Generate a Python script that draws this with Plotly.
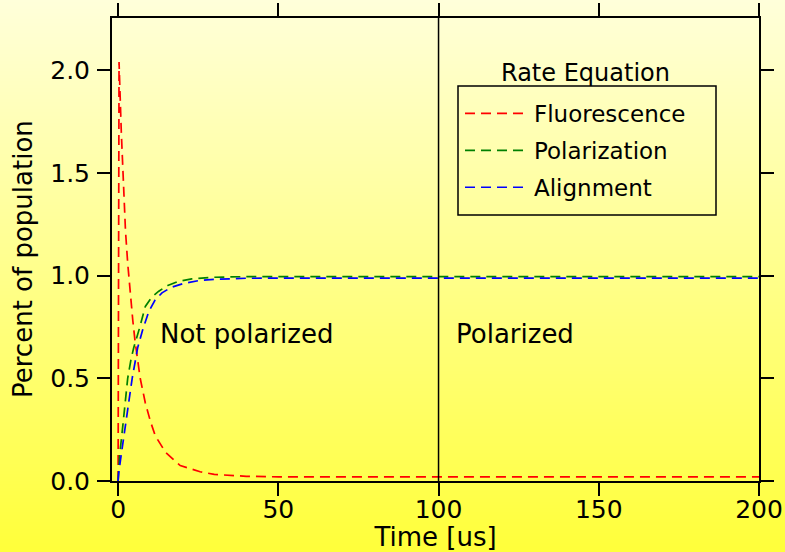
import base64, struct, zlib
import plotly.graph_objects as go

# ---------------- data ----------------
t_fluor = [0, 0.3, 1.0, 1.6, 2.3, 3.0, 3.8, 4.6, 5.3, 6.0, 6.9, 8.5, 10.1, 11.6,
           14.8, 19.4, 25.6, 30, 40, 50, 100, 150, 200]
fluorescence = [0, 2.04, 1.70, 1.45, 1.22, 1.06, 0.90, 0.78, 0.68, 0.59, 0.50, 0.38,
                0.29, 0.22, 0.14, 0.075, 0.045, 0.032, 0.023, 0.02, 0.02, 0.02, 0.02]

t_polar = [0, 0.5, 1.15, 1.77, 2.3, 3.0, 4.0, 4.9, 6.7, 8.5, 10.5, 12.7, 15.5,
           18.9, 23, 30, 40, 60, 100, 150, 200]
polarization = [0, 0.13, 0.22, 0.31, 0.40, 0.50, 0.59, 0.65, 0.745, 0.85, 0.895,
                0.924, 0.952, 0.972, 0.984, 0.992, 0.995, 0.995, 0.995, 0.995, 0.995]

t_align = [0, 0.2, 1.0, 1.8, 2.7, 3.5, 4.4, 6.1, 7.7, 9.6, 11.5, 13.7, 16.5,
           20.5, 25, 30, 40, 60, 100, 150, 200]
alignment = [0, 0.04, 0.13, 0.22, 0.31, 0.41, 0.50, 0.648, 0.737, 0.826, 0.88,
             0.916, 0.942, 0.962, 0.975, 0.982, 0.987, 0.988, 0.988, 0.988, 0.988]

x_ticks = [0, 50, 100, 150, 200]
y_ticks = [0.0, 0.5, 1.0, 1.5, 2.0]
y_ticktext = ["0.0", "0.5", "1.0", "1.5", "2.0"]
divider_x = 100
region_labels = ["Not polarized", "Polarized"]
region_label_x = [40.2, 123.9]
region_label_y = [0.718, 0.718]

# ---------------- background gradient image ----------------
W, H = 785, 552
ML, MR, MT, MB = 112, 26, 18, 71
PW, PH = W - ML - MR, H - MT - MB

def px_x(p):
    return (p - ML) / PW

def px_y(p):
    return 1 - (p - MT) / PH

def gradient_png(h, top=(255, 255, 218), bot=(255, 255, 58), w=4):
    rows = b""
    for i in range(h):
        f = i / (h - 1)
        c = bytes(int(round(top[k] + (bot[k] - top[k]) * f)) for k in range(3))
        rows += b"\x00" + c * w
    def chunk(tag, data):
        return struct.pack(">I", len(data)) + tag + data + struct.pack(">I", zlib.crc32(tag + data) & 0xffffffff)
    png = b"\x89PNG\r\n\x1a\n"
    png += chunk(b"IHDR", struct.pack(">IIBBBBB", w, h, 8, 2, 0, 0, 0))
    png += chunk(b"IDAT", zlib.compress(rows))
    png += chunk(b"IEND", b"")
    return "data:image/png;base64," + base64.b64encode(png).decode()

FONT = "DejaVu Sans"
dash = "10px,6px"
LW = 1.7

fig = go.Figure()
fig.add_trace(go.Scatter(x=t_fluor, y=fluorescence, mode="lines", name="Fluorescence",
                         legendgroup="a", line=dict(color="#ff0000", width=LW, dash=dash)))
fig.add_trace(go.Scatter(x=t_polar, y=polarization, mode="lines", name="Polarization",
                         legendgroup="b", line=dict(color="#008000", width=LW, dash=dash)))
fig.add_trace(go.Scatter(x=t_align, y=alignment, mode="lines", name="Alignment",
                         legendgroup="c", line=dict(color="#0000ff", width=LW, dash=dash)))

fig.add_shape(type="line", xref="x", yref="paper", x0=divider_x, x1=divider_x, y0=0, y1=1,
              line=dict(color="black", width=1.5))

# legend frame
fig.add_shape(type="rect", xref="paper", yref="paper",
              x0=px_x(458), x1=px_x(716), y0=px_y(215), y1=px_y(86),
              line=dict(color="black", width=1.5), fillcolor="rgba(0,0,0,0)")

for txt, xx, yy in zip(region_labels, region_label_x, region_label_y):
    fig.add_annotation(x=xx, y=yy, xref="x", yref="y", text=txt, showarrow=False,
                       xanchor="center", yanchor="middle",
                       font=dict(family=FONT, size=26, color="black"))

fig.add_annotation(x=px_x(585), y=px_y(73), xref="paper", yref="paper",
                   text="Rate Equation", showarrow=False, xanchor="center", yanchor="middle",
                   font=dict(family=FONT, size=24, color="black"))

# y-axis title
fig.add_annotation(x=px_x(23), y=px_y(259), xref="paper", yref="paper",
                   text="Percent of population", showarrow=False, textangle=-90,
                   xanchor="center", yanchor="middle",
                   font=dict(family=FONT, size=26, color="black"))

fig.add_layout_image(dict(source=gradient_png(H), xref="paper", yref="paper",
                          x=-ML / PW, y=1 + MT / PH, sizex=W / PW, sizey=H / PH,
                          xanchor="left", yanchor="top", sizing="stretch", layer="below"))

axis_common = dict(showline=True, linewidth=2, linecolor="black", mirror="allticks",
                   ticks="outside", ticklen=13, tickwidth=2, tickcolor="black",
                   showgrid=False, zeroline=False,
                   tickfont=dict(family=FONT, size=25, color="black"))

fig.update_layout(
    width=W, height=H,
    margin=dict(l=ML, r=MR, t=MT, b=MB, autoexpand=False),
    paper_bgcolor="rgba(0,0,0,0)", plot_bgcolor="rgba(0,0,0,0)",
    xaxis=dict(range=[-1.9, 200], tickvals=x_ticks, ticklabelstandoff=-8,
               title=dict(text="Time [us]", font=dict(family=FONT, size=26, color="black"), standoff=4),
               **axis_common),
    yaxis=dict(range=[0, 2.254], tickvals=y_ticks, ticktext=y_ticktext, ticklabelstandoff=2,
               **axis_common),
    legend=dict(x=px_x(460), y=px_y(92), xanchor="left", yanchor="top",
                bgcolor="rgba(0,0,0,0)", borderwidth=0,
                font=dict(family=FONT, size=23, color="black"), tracegroupgap=4,
                itemwidth=64),
    showlegend=True,
)

fig.write_html("out.html")
